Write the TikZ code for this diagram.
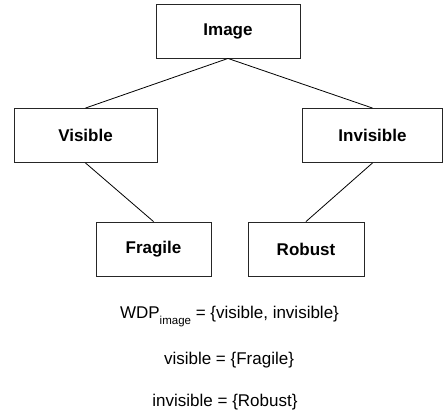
\documentclass[tikz,border=0pt]{standalone}
\usepackage{fontspec}
\setmainfont{Liberation Sans}
\begin{document}
\begin{tikzpicture}[x=1pt,y=-1pt,
  box/.style={draw=black!85, line width=0.9pt, rectangle, minimum height=54pt,
    inner sep=0pt, font=\fontsize{17}{20}\selectfont\bfseries},
  link/.style={draw=black, line width=0.8pt},
  formula/.style={anchor=base, inner sep=0pt, font=\fontsize{17}{20}\selectfont}]
\useasboundingbox (0,0) rectangle (443,415);
% tree of categories
\node[box, minimum width=144pt] (image) at (228,31) {Image};
\node[box, minimum width=143pt] (visible) at (85.5,135.5) {Visible};
\node[box, minimum width=140pt] (invisible) at (372.5,135.5) {Invisible};
\node[box, minimum width=115pt] (fragile) at (153.5,249) {Fragile};
\node[box, minimum width=116pt] (robust) at (306,249) {Robust};
\draw[link] (image.south) -- (visible.north);
\draw[link] (image.south) -- (invisible.north);
\draw[link] (visible.south) -- (fragile.north);
\draw[link] (invisible.south) -- (robust.north);
% set definitions
\node[formula] (wdp) at (229.5,318) {WDP\raisebox{-6pt}{\fontsize{11.5}{12}\selectfont image} = \{visible, invisible\}};
\node[formula] (visdef) at (229,364) {visible = \{Fragile\}};
\node[formula] (invdef) at (225,406) {invisible = \{Robust\}};
\end{tikzpicture}
\end{document}
